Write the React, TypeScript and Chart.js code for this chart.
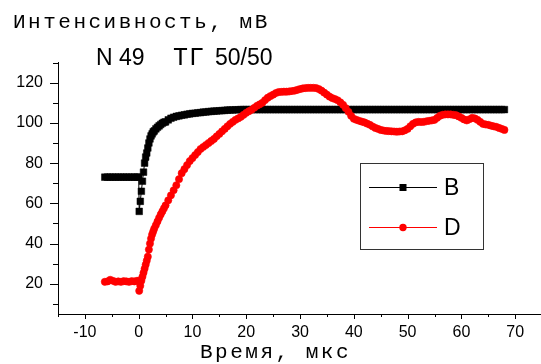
import React, { useEffect, useRef } from "react";
import { Chart, registerables } from "chart.js";

Chart.register(...registerables);

const times = [
  -6.3, -5.8, -5.3, -4.8, -4.3, -3.8, -3.3, -2.8, -2.3, -1.8, -1.3, -0.8, -0.3, 0,
  0.1, 0.3, 0.5, 0.7, 0.9, 1.1, 1.3, 1.5, 1.7, 1.9, 2.1, 2.3, 2.5, 2.7, 2.9, 3.2, 3.5, 3.8, 4.1, 4.4, 4.7,
  5, 5.5, 6, 6.5, 7, 7.5, 8, 8.5, 9, 9.5, 10, 10.5, 11, 11.5, 12, 12.5, 13, 13.5, 14, 14.5,
  15, 15.5, 16, 16.5, 17, 17.5, 18, 18.5, 19, 19.5, 20, 20.5, 21, 21.5, 22, 22.5, 23, 23.5,
  24, 24.5, 25, 25.5, 26, 26.5, 27, 27.5, 28, 28.5, 29, 29.5, 30, 30.5, 31, 31.5, 32, 32.5,
  33, 33.5, 34, 34.5, 35, 35.5, 36, 36.5, 37, 37.5, 38, 38.5, 39, 39.5, 40, 40.5, 41, 41.5,
  42, 42.5, 43, 43.5, 44, 44.5, 45, 45.5, 46, 46.5, 47, 47.5, 48, 48.5, 49, 49.5, 50, 50.5,
  51, 51.5, 52, 52.5, 53, 53.5, 54, 54.5, 55, 55.5, 56, 56.5, 57, 57.5, 58, 58.5, 59, 59.5,
  60, 60.5, 61, 61.5, 62, 62.5, 63, 63.5, 64, 64.5, 65, 65.5, 66, 66.5, 67, 67.5, 68,
];

const seriesB = [
  73, 73, 73, 73, 73, 73, 73, 73, 73, 73, 73, 73, 73, 73,
  56, 61, 66, 71, 75.5, 80, 83, 85, 87.5, 90, 92, 93.5, 94.5, 95.5, 96, 97, 97.8, 98.5, 99.2, 99.8, 100.3,
  100.5, 101.5, 102.3, 102.8, 103.2, 103.5, 103.8, 104, 104.3, 104.5, 104.7, 104.8, 105, 105.1, 105.3, 105.4, 105.6, 105.7, 105.8, 105.9,
  106, 106.1, 106.2, 106.3, 106.4, 106.4, 106.5, 106.5, 106.6, 106.6, 106.6, 106.6, 106.6, 106.6, 106.6, 106.6, 106.6, 106.6,
  106.6, 106.6, 106.6, 106.6, 106.6, 106.6, 106.6, 106.6, 106.6, 106.6, 106.6, 106.6, 106.6, 106.6, 106.6, 106.6, 106.6, 106.6,
  106.6, 106.6, 106.6, 106.6, 106.6, 106.6, 106.6, 106.6, 106.6, 106.6, 106.6, 106.6, 106.6, 106.6, 106.6, 106.6, 106.6, 106.6,
  106.6, 106.6, 106.6, 106.6, 106.6, 106.6, 106.6, 106.6, 106.6, 106.6, 106.6, 106.6, 106.6, 106.6, 106.6, 106.6, 106.6, 106.6,
  106.6, 106.6, 106.6, 106.6, 106.6, 106.6, 106.6, 106.6, 106.6, 106.6, 106.6, 106.6, 106.6, 106.6, 106.6, 106.6, 106.6, 106.6,
  106.6, 106.6, 106.6, 106.6, 106.6, 106.6, 106.6, 106.6, 106.6, 106.6, 106.6, 106.6, 106.6, 106.6, 106.6, 106.6, 106.6,
];

const seriesD = [
  21, 21.2, 22, 21.5, 21, 21.2, 21, 21.3, 21.2, 21, 21.3, 21.2, 21.5, 21.5,
  16.5, 19, 21.5, 23.5, 25.5, 27.5, 29.5, 31.5, 33.5, 37, 40, 42.5, 44.5, 46, 47.5, 49.2, 51, 52.8, 54.5, 56, 57.5,
  59, 61.5, 64, 66.5, 69, 72, 75, 77, 79, 81, 82.5, 84, 85.5, 87, 88, 89, 90, 91, 92, 93.3,
  94.5, 95.8, 97, 98.3, 99.5, 100.5, 101.5, 102.2, 103, 104, 105, 105.8, 106.5, 107.5, 108.5, 109.2, 110, 111.3,
  112.5, 113.3, 114, 114.8, 115.3, 115.4, 115.5, 115.5, 115.6, 115.8, 116, 116.4, 116.8, 117.1, 117.3, 117.4, 117.4, 117.4,
  117.3, 116.8, 116, 115, 114, 113, 112.3, 111.8, 111.2, 110.2, 109, 107.3, 105.5, 103.5, 102, 101.5, 101, 100.6,
  100.2, 99.6, 99, 98.2, 97.5, 97, 96.5, 96.2, 96, 95.9, 95.8, 95.7, 95.6, 95.7, 95.8, 96.3, 97, 98.3,
  99.5, 100.2, 100.5, 100.4, 100.5, 100.8, 101, 101.2, 101.5, 102.5, 103.5, 104, 104.2, 104.2, 104.2, 104, 103.8, 103.2,
  102.5, 101.7, 101.2, 101.8, 102.5, 102.2, 101.5, 100.5, 99.5, 99.2, 99, 98.6, 98.3, 98, 97.5, 97, 96.5,
];

const xMajorTicks = [-10, 0, 10, 20, 30, 40, 50, 60, 70];
const xMinorTicks = [-15, -5, 5, 15, 25, 35, 45, 55, 65];
const yMajorTicks = [20, 40, 60, 80, 100, 120];
const yMinorTicks = [10, 30, 50, 70, 90, 110, 130];

const yTitle = "Интенсивность, мВ";
const xTitle = "Время, мкс";
const seriesNames = ["B", "D"];

const decorPlugin = {
  id: "decor",
  afterDraw(chart: any) {
    const ctx = chart.ctx as CanvasRenderingContext2D;
    const xs = chart.scales.x;
    const ys = chart.scales.y;
    const area = chart.chartArea;
    ctx.save();
    ctx.strokeStyle = "#000";
    ctx.lineWidth = 1;
    ctx.beginPath();
    for (const v of xMajorTicks) {
      const px = Math.round(xs.getPixelForValue(v)) + 0.5;
      ctx.moveTo(px, area.bottom);
      ctx.lineTo(px, area.bottom + 5);
    }
    for (const v of xMinorTicks) {
      const px = Math.round(xs.getPixelForValue(v)) + 0.5;
      ctx.moveTo(px, area.bottom);
      ctx.lineTo(px, area.bottom + 3);
    }
    for (const v of yMajorTicks) {
      const py = Math.round(ys.getPixelForValue(v)) + 0.5;
      ctx.moveTo(area.left, py);
      ctx.lineTo(area.left - 8, py);
    }
    for (const v of yMinorTicks) {
      const py = Math.round(ys.getPixelForValue(v)) + 0.5;
      ctx.moveTo(area.left, py);
      ctx.lineTo(area.left - 5, py);
    }
    ctx.stroke();

    ctx.fillStyle = "#000";
    ctx.textBaseline = "alphabetic";
    ctx.textAlign = "left";
    (ctx as any).letterSpacing = "2.5px";
    ctx.font = "21px 'Liberation Mono', 'Courier New', monospace";
    ctx.fillText(yTitle, 13, 28);
    ctx.fillText(xTitle, 200, 358);
    (ctx as any).letterSpacing = "1px";
    ctx.font = "25px 'Liberation Mono', 'Courier New', monospace";
    ctx.fillText("ТГ", 173, 65);
    (ctx as any).letterSpacing = "0px";
    ctx.font = "23px 'Liberation Sans', Arial, sans-serif";
    ctx.fillText("N 49", 96, 65);
    ctx.fillText("50/50", 215, 65);

    ctx.lineWidth = 1;
    ctx.strokeStyle = "#333";
    ctx.strokeRect(360.5, 163.5, 123, 86);
    ctx.strokeStyle = "#000";
    ctx.beginPath();
    ctx.moveTo(369, 187.5);
    ctx.lineTo(437, 187.5);
    ctx.stroke();
    ctx.fillStyle = "#000";
    ctx.fillRect(399.5, 184, 7, 7);
    ctx.strokeStyle = "#ff0000";
    ctx.beginPath();
    ctx.moveTo(369, 227.5);
    ctx.lineTo(437, 227.5);
    ctx.stroke();
    ctx.fillStyle = "#ff0000";
    ctx.beginPath();
    ctx.arc(403, 227.5, 3.7, 0, Math.PI * 2);
    ctx.fill();
    ctx.fillStyle = "#000";
    ctx.font = "23px 'Liberation Sans', Arial, sans-serif";
    ctx.fillText(seriesNames[0], 444, 195);
    ctx.fillText(seriesNames[1], 444, 235);
    ctx.restore();
  },
};

export default function App() {
  const ref = useRef<HTMLCanvasElement | null>(null);
  useEffect(() => {
    if (!ref.current) return;
    const chart = new Chart(ref.current, {
      type: "line",
      data: {
        datasets: [
          {
            label: seriesNames[1],
            data: times.map((t, i) => ({ x: t, y: seriesD[i] })),
            borderColor: "#ff0000",
            backgroundColor: "#ff0000",
            borderWidth: 1,
            pointStyle: "circle",
            pointRadius: 3.6,
            pointBorderWidth: 0.6,
            pointBorderColor: "#ff0000",
            pointBackgroundColor: "#ff0000",
            order: 0,
          },
          {
            label: seriesNames[0],
            data: times.map((t, i) => ({ x: t, y: seriesB[i] })),
            borderColor: "#000",
            backgroundColor: "#000",
            borderWidth: 1,
            pointStyle: "rect",
            pointRadius: 4.7,
            pointBorderWidth: 0.5,
            pointBorderColor: "#000",
            pointBackgroundColor: "#000",
            order: 1,
          },
        ],
      },
      options: {
        animation: false,
        responsive: false,
        maintainAspectRatio: false,
        layout: { autoPadding: false, padding: { top: 62.5, right: 0, left: 0, bottom: 0 } },
        plugins: { legend: { display: false }, tooltip: { enabled: false } },
        scales: {
          x: {
            type: "linear",
            min: -15,
            max: 74.8,
            grid: { display: false, drawTicks: false },
            border: { display: true, color: "#000", width: 1 },
            afterBuildTicks: (s: any) => {
              s.ticks = xMajorTicks.map((v) => ({ value: v }));
            },
            afterFit: (s: any) => {
              s.height = 50;
              s.paddingLeft = 0;
              s.paddingRight = 0;
            },
            ticks: {
              padding: 9,
              color: "#000",
              maxRotation: 0,
              autoSkip: false,
              font: { family: "'Liberation Sans', Arial, sans-serif", size: 16 },
            },
          },
          y: {
            type: "linear",
            min: 5,
            max: 130,
            grid: { display: false, drawTicks: false },
            border: { display: true, color: "#000", width: 1 },
            afterBuildTicks: (s: any) => {
              s.ticks = yMajorTicks.map((v) => ({ value: v }));
            },
            afterFit: (s: any) => {
              s.width = 58;
              s.paddingTop = 0;
              s.paddingBottom = 0;
            },
            ticks: {
              padding: 15,
              color: "#000",
              autoSkip: false,
              font: { family: "'Liberation Sans', Arial, sans-serif", size: 16 },
            },
          },
        },
      },
      plugins: [decorPlugin],
    });
    return () => chart.destroy();
  }, []);
  return (
    <div style={{ position: "fixed", left: 0, top: 0, width: 541, height: 364, background: "#fff" }}>
      <canvas ref={ref} width={541} height={364} style={{ display: "block" }} />
    </div>
  );
}
